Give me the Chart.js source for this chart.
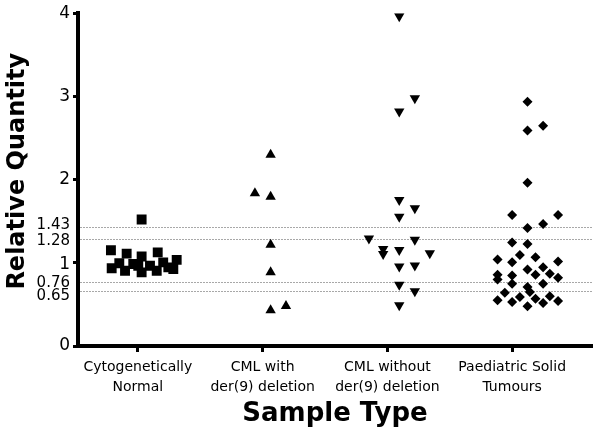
<!DOCTYPE html>
<html>
<head>
<meta charset="utf-8">
<script src="https://cdn.jsdelivr.net/npm/chart.js@4/dist/chart.umd.min.js"></script>
<style>
  html, body { margin: 0; padding: 0; background: #fff; }
  #wrap { width: 600px; height: 436px; }
</style>
</head>
<body>
<div id="wrap"><canvas id="chart"></canvas></div>
<script>
// Category names (tick labels on x) and where they sit
const categories = [
    ['Cytogenetically', 'Normal'],
    ['CML with', 'der(9) deletion'],
    ['CML without', 'der(9) deletion'],
    ['Paediatric Solid', 'Tumours']
];
const categoryPositions = [1, 2, 3, 4];

// y ticks: integers plus the cut-off values
const yTickValues = [0, 0.65, 0.76, 1, 1.28, 1.43, 2, 3, 4];

// Cytogenetically Normal (squares)
const normalX = [1.03, 0.784, 0.91, 1.03, 1.159, 1.311, 0.79, 0.851, 0.897, 0.963, 1.03, 1.097, 1.151, 1.203, 1.244, 1.284, 1.003];
const normalY = [1.52, 1.15, 1.11, 1.075, 1.125, 1.035, 0.935, 0.995, 0.905, 0.985, 0.885, 0.965, 0.905, 1.005, 0.945, 0.925, 0.965];

// CML with der(9) deletion (triangles up)
const withDelX = [2.064, 1.938, 2.064, 2.064, 2.064, 2.064, 2.187];
const withDelY = [2.30, 1.835, 1.795, 1.218, 0.887, 0.43, 0.48];

// CML without der(9) deletion (triangles down)
const withoutDelX = [3.095, 3.22, 3.095, 3.095, 3.22, 3.095, 2.852, 3.22, 2.966, 2.966, 3.095, 3.34, 3.095, 3.22, 3.095, 3.22, 3.095];
const withoutDelY = [3.964, 2.977, 2.818, 1.755, 1.656, 1.552, 1.293, 1.278, 1.166, 1.107, 1.154, 1.114, 0.955, 0.967, 0.737, 0.657, 0.49];

// Paediatric Solid Tumours (diamonds)
const tumourX = [4.123, 4.123, 4.248, 4.123, 4.0, 4.368, 4.123, 4.248, 4.0, 4.123, 3.883, 4.0, 4.062, 4.187, 4.368, 4.248, 4.123, 3.883,
                 3.883, 4.0, 4.187, 4.302, 4.368, 4.0, 4.248, 4.123, 4.142, 3.941, 4.062, 4.187, 4.302, 3.883, 4.0, 4.248, 4.368, 4.123];
const tumourY = [2.937, 2.591, 2.647, 1.962, 1.576, 1.576, 1.417, 1.465, 1.245, 1.226, 1.039, 1.007, 1.095, 1.066, 1.015, 0.947, 0.919, 0.856,
                 0.80, 0.848, 0.856, 0.868, 0.82, 0.749, 0.749, 0.708, 0.649, 0.641, 0.589, 0.569, 0.597, 0.549, 0.529, 0.517, 0.541, 0.478];

const toPoints = (xs, ys) => xs.map((x, i) => ({ x: x, y: ys[i] }));
const isInt = (v) => Number.isInteger(v);
const tickVal = (c) => (c.tick ? c.tick.value : null);

// The cut-off labels crowd each other, so a few are nudged up/down (pixels).
// Done with an empty second line and a small line height.
const labelNudge = { 0.65: 4.5, 1: 2, 1.28: 2, 1.43: -2 };

const ctx = document.getElementById('chart').getContext('2d');
new Chart(ctx, {
    type: 'scatter',
    data: {
        datasets: [
            { label: 'Normal', data: toPoints(normalX, normalY), pointStyle: 'rect', pointRadius: 7, backgroundColor: '#000', borderColor: '#000', borderWidth: 0 },
            { label: 'With deletion', data: toPoints(withDelX, withDelY), pointStyle: 'triangle', pointRadius: 6, backgroundColor: '#000', borderColor: '#000', borderWidth: 0 },
            { label: 'Without deletion', data: toPoints(withoutDelX, withoutDelY), pointStyle: 'triangle', rotation: 180, pointRadius: 6, backgroundColor: '#000', borderColor: '#000', borderWidth: 0 },
            { label: 'Tumours', data: toPoints(tumourX, tumourY), pointStyle: 'rectRot', pointRadius: 5, backgroundColor: '#000', borderColor: '#000', borderWidth: 0 }
        ]
    },
    options: {
        responsive: true,
        maintainAspectRatio: false,
        animation: false,
        layout: { padding: { top: 11, right: 8, left: 0, bottom: 0 } },
        plugins: { legend: { display: false }, tooltip: { enabled: false } },
        scales: {
            x: {
                type: 'linear',
                min: 0.52,
                max: 4.64,
                afterBuildTicks: (scale) => { scale.ticks = categoryPositions.map(v => ({ value: v })); },
                afterFit: (scale) => { scale.height = 90; },
                ticks: {
                    autoSkip: false,
                    maxRotation: 0,
                    padding: 5,
                    color: '#000',
                    font: { family: 'DejaVu Sans', size: 14, lineHeight: 1.45 },
                    callback: (value) => categories[categoryPositions.indexOf(value)]
                },
                grid: { drawOnChartArea: false, color: '#000', tickColor: '#000', tickLength: 6, tickWidth: 3 },
                border: { color: '#000', width: 4 },
                title: {
                    display: true,
                    text: 'Sample Type',
                    color: '#000',
                    font: { family: 'DejaVu Sans', size: 26, weight: 'bold' },
                    padding: { top: 0, bottom: 6 }
                }
            },
            y: {
                type: 'linear',
                min: 0,
                max: 4,
                afterBuildTicks: (scale) => { scale.ticks = yTickValues.map(v => ({ value: v })); },
                afterFit: (scale) => { scale.width = 78; },
                ticks: {
                    autoSkip: false,
                    padding: 3,
                    color: '#000',
                    font: (c) => {
                        const v = tickVal(c);
                        const font = { family: 'DejaVu Sans', size: isInt(v) ? 17 : 15 };
                        if (labelNudge[v]) font.lineHeight = (2 * Math.abs(labelNudge[v])) + 'px';
                        return font;
                    },
                    callback: (value) => {
                        const n = labelNudge[value];
                        if (!n) return String(value);
                        return n > 0 ? ['', String(value)] : [String(value), ''];
                    }
                },
                grid: {
                    color: (c) => (c.tick && !isInt(c.tick.value)) ? '#a8a8a8' : 'rgba(0,0,0,0)',
                    tickColor: (c) => (c.tick && isInt(c.tick.value)) ? '#000' : 'rgba(0,0,0,0)',
                    lineWidth: 1,
                    tickWidth: 3,
                    tickLength: 5
                },
                border: { color: '#000', width: 4, dash: [2, 1] },
                title: {
                    display: true,
                    text: '  Relative Quantity',
                    color: '#000',
                    font: { family: 'DejaVu Sans', size: 24, weight: 'bold' },
                    padding: { top: 3, bottom: 6 }
                }
            }
        }
    }
});
</script>
</body>
</html>
